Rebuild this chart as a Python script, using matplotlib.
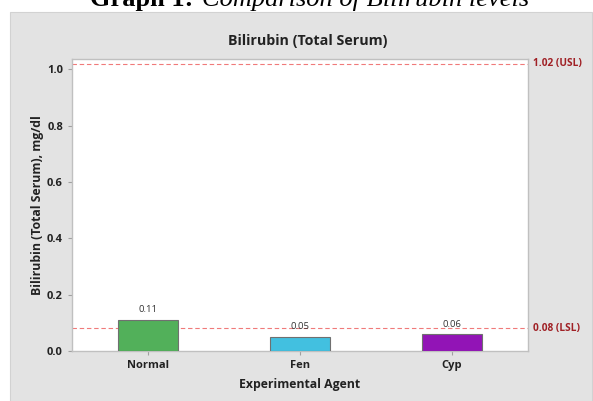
import matplotlib.pyplot as plt
from matplotlib.patches import Rectangle

agents = ['Normal', 'Fen', 'Cyp']
bilirubin = [0.11, 0.05, 0.06]
bar_colors = ['#52b05a', '#42c0e0', '#9214b6']
usl = 1.02
lsl = 0.08
yticks = [0.0, 0.2, 0.4, 0.6, 0.8, 1.0]

plt.rcParams['font.family'] = ['Open Sans', 'DejaVu Sans']

fig = plt.figure(figsize=(5.93, 4.01), dpi=100)

# grey Minitab-like panel behind everything
fig.patches.append(Rectangle((10 / 593, 0), 582 / 593, 389 / 401, transform=fig.transFigure,
                             facecolor='#e3e3e3', edgecolor='#d2d2d2', lw=0.8, zorder=-5))

# caption from the document, clipped at the top
base_y = 1.0 - 6 / 401
t1 = fig.text(90 / 593, base_y, 'Graph 1: ', family='Liberation Serif', weight='bold',
              fontsize=19, ha='left', va='baseline')
fig.canvas.draw()
bb = t1.get_window_extent()
fig.text(bb.x1 / fig.bbox.width + 0.004, base_y, 'Comparison of Bilirubin levels',
         family='Liberation Serif', style='italic', fontsize=19, ha='left', va='baseline')

ax = fig.add_axes([72 / 593, 50 / 401, 456 / 593, 292 / 401])
ax.set_facecolor('white')
x = range(len(agents))
bars = ax.bar(x, bilirubin, width=0.4, color=bar_colors, edgecolor='#707070', linewidth=0.8, zorder=3)
for b, v in zip(bars, bilirubin):
    ax.annotate(f'{v:.2f}', (b.get_x() + b.get_width() / 2, v), xytext=(0, 4),
                textcoords='offset points', ha='center', va='bottom', fontsize=6.8, color='#333333')

for ref, lab in [(usl, '1.02 (USL)'), (lsl, '0.08 (LSL)')]:
    ax.axhline(ref, color='#f07a7a', ls=(0, (4, 2.5)), lw=0.8, zorder=2)
    ax.text(1.012, ref, lab, transform=ax.get_yaxis_transform(), va='center', ha='left',
            fontsize=7.3, color='#a02025', weight='bold')

ax.set_xlim(-0.5, 2.5)
ax.set_ylim(0, 1.036)
ax.set_xticks(list(x))
ax.set_xticklabels(agents)
ax.set_yticks(yticks)
ax.set_yticklabels([f'{t:.1f}' for t in yticks])
ax.tick_params(colors='#a0a0a0', labelcolor='#222222', labelsize=8.0, length=3, width=0.8)
for lbl in ax.get_xticklabels() + ax.get_yticklabels():
    lbl.set_fontweight('bold')
for s in ax.spines.values():
    s.set_color('#c0c0c0')
    s.set_linewidth(1.0)

ax.set_xlabel('Experimental Agent', fontsize=8.8, weight='bold', color='#222222', labelpad=5)
ax.set_ylabel('Bilirubin (Total Serum), mg/dl', fontsize=8.8, weight='bold', color='#222222',
              labelpad=2)
ax.set_title('Bilirubin (Total Serum)', fontsize=10.3, weight='bold', color='#222222', pad=10,
             x=0.517)

fig.savefig('out.png', dpi=100)
